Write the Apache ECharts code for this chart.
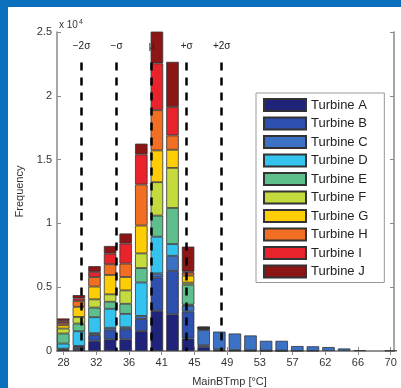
<!DOCTYPE html>
<html><head><meta charset="utf-8">
<script src="https://cdn.jsdelivr.net/npm/echarts@6/dist/echarts.min.js"></script>
<style>
html,body{margin:0;padding:0;background:#0a6fbd;width:401px;height:388px;overflow:hidden}
#c{position:absolute;left:8px;top:7px;width:393px;height:381px;background:#fff}
</style>
</head><body><div id="c"></div>
<script>
// ---- data ----
const binCenters = [28,30,32,34,36,38,40,42,44,46,48,50,52,54,56,58,60,62,64,66,68,70];
const xTickValues = [28,32.2,36.4,40.6,44.8,49,53.2,57.4,61.6,65.8,70];
const turbineNames = ['Turbine A','Turbine B','Turbine C','Turbine D','Turbine E','Turbine F','Turbine G','Turbine H','Turbine I','Turbine J'];
const turbineA = [60,160,800,920,920,1570,3150,2880,980,300,40,30,20,10,10,0,0,0,0,0,0,0];
const turbineB = [60,160,450,750,790,940,2620,3400,2100,150,80,40,30,20,20,10,10,0,0,0,0,0];
const turbineC = [70,80,150,150,150,240,310,1180,470,1200,1400,1300,1170,770,770,380,360,310,200,60,0,30];
const turbineD = [390,1150,1250,1490,1050,2620,2880,920,80,40,0,0,0,0,0,0,0,0,0,0,0,0];
const turbineE = [790,600,750,550,790,1130,1650,2830,1570,80,0,0,0,0,0,0,0,0,0,0,0,0];
const turbineF = [390,520,650,580,1050,1150,2620,3140,160,20,0,0,0,0,0,0,0,0,0,0,0,0];
const turbineG = [260,790,1000,1520,1050,2180,2490,1420,550,20,0,0,0,0,0,0,0,0,0,0,0,0];
const turbineH = [180,460,750,840,1050,3220,3150,1120,240,20,0,0,0,0,0,0,0,0,0,0,0,0];
const turbineI = [160,200,400,830,1570,2360,3670,2230,80,20,0,0,0,0,0,0,0,0,0,0,0,0];
const turbineJ = [190,260,450,600,790,840,3500,3540,1950,60,0,0,0,0,0,0,0,0,0,0,0,0];
const sigmaPositions = [30.3,34.8,39.3,43.8,48.3];
const sigmaLabels = ['\u22122\u03c3','\u2212\u03c3','\u03bc','+\u03c3','+2\u03c3'];

const turbineValues = [turbineA,turbineB,turbineC,turbineD,turbineE,turbineF,turbineG,turbineH,turbineI,turbineJ];
const colors = ['#20237a','#2d4fae','#3b72c6','#33c3ee','#5fbf8c','#c5da3c','#ffcd05','#f26e22','#e8232b','#8c1515'];

const FONT = '"Liberation Sans", Arial, sans-serif';
const axisGrey = '#8a8a8a';
const X_MIN = 27.15, X_MAX = 70.43, Y_MAX = 25000;

const series = turbineValues.map((vals, i) => ({
  name: turbineNames[i],
  type: 'bar',
  stack: 'total',
  barWidth: 12.5,
  xAxisIndex: 0,
  yAxisIndex: 0,
  data: vals.map(v => v > 0 ? v : '-'),
  itemStyle: { color: colors[i], borderColor: '#333', borderWidth: 0.8 },
  emphasis: { disabled: true },
  animation: false
}));

series.push({
  name: 'sigma',
  type: 'scatter',
  xAxisIndex: 1,
  yAxisIndex: 1,
  symbolSize: 0,
  silent: true,
  z: 10,
  data: sigmaPositions.map(x => [x, 0]),
  markLine: {
    silent: true,
    symbol: ['none','none'],
    animation: false,
    lineStyle: { color: '#000', width: 2.5, type: [8,7] },
    label: { show: true, position: 'start', distance: 11, formatter: p => p.name,
             fontSize: 10, color: '#222', fontFamily: FONT },
    data: sigmaPositions.map((x, j) => [
      { name: sigmaLabels[j], coord: [x, 22600] },
      { coord: [x, 0] }
    ])
  }
});

const chart = echarts.init(document.getElementById('c'));
chart.setOption({
  animation: false,
  backgroundColor: '#fff',
  textStyle: { fontFamily: FONT },
  title: {
    text: 'x 10{s|4}', left: 46, top: 7,
    textStyle: { fontSize: 10, fontWeight: 'normal', color: '#333', fontFamily: FONT,
      rich: { s: { fontSize: 7, color: '#333', verticalAlign: 'top', padding: [0,0,6,1], fontFamily: FONT } } }
  },
  grid: [
    { left: 47.5, top: 25, right: 2.3, bottom: 37, outerBoundsMode: 'none', containLabel: false },
    { left: 49, top: 25, right: 7, bottom: 37, outerBoundsMode: 'none', containLabel: false }
  ],
  legend: {
    orient: 'vertical', left: 248, top: 86,
    icon: 'rect', itemWidth: 42, itemHeight: 12, itemGap: 4.5,
    padding: [5, 16, 4, 7],
    backgroundColor: '#fff', borderColor: '#999', borderWidth: 1,
    textStyle: { fontSize: 13, color: '#222', fontFamily: FONT },
    selectedMode: false,
    data: turbineNames
  },
  xAxis: [
    { type: 'category', gridIndex: 0, data: binCenters.map(String), boundaryGap: true, show: false },
    { type: 'value', gridIndex: 1, position: 'bottom', min: X_MIN, max: X_MAX,
      name: 'MainBTmp [\u00b0C]', nameLocation: 'middle', nameGap: 25,
      nameTextStyle: { fontSize: 11, color: '#333', fontFamily: FONT, padding: [0,0,0,8] },
      axisLine: { show: true, lineStyle: { color: axisGrey, width: 1.5 } },
      axisTick: { show: true, inside: true, length: 4, customValues: xTickValues, lineStyle: { color: axisGrey } },
      axisLabel: { customValues: xTickValues, formatter: v => String(Math.round(v)), fontSize: 11, color: '#333', margin: 6, fontFamily: FONT },
      splitLine: { show: false } },
    { type: 'value', gridIndex: 1, position: 'top', min: X_MIN, max: X_MAX,
      axisLine: { show: true, lineStyle: { color: axisGrey, width: 1.5 } },
      axisTick: { show: true, inside: true, length: 4, customValues: xTickValues, lineStyle: { color: axisGrey } },
      axisLabel: { show: false },
      splitLine: { show: false } }
  ],
  yAxis: [
    { type: 'value', gridIndex: 0, min: 0, max: Y_MAX, show: false },
    { type: 'value', gridIndex: 1, position: 'left', min: 0, max: Y_MAX, interval: 5000,
      name: 'Frequency', nameLocation: 'middle', nameGap: 28,
      nameTextStyle: { fontSize: 11, color: '#333', fontFamily: FONT },
      axisLine: { show: true, lineStyle: { color: axisGrey, width: 1.5 } },
      axisTick: { show: true, inside: true, length: 4, lineStyle: { color: axisGrey } },
      axisLabel: { formatter: v => String(v / 10000), fontSize: 11, color: '#333', margin: 5, fontFamily: FONT },
      splitLine: { show: false } },
    { type: 'value', gridIndex: 1, position: 'right', min: 0, max: Y_MAX, interval: 5000,
      axisLine: { show: true, lineStyle: { color: axisGrey, width: 1.5 } },
      axisTick: { show: true, inside: true, length: 4, lineStyle: { color: axisGrey } },
      axisLabel: { show: false },
      splitLine: { show: false } }
  ],
  series: series
});
</script>
</body></html>
